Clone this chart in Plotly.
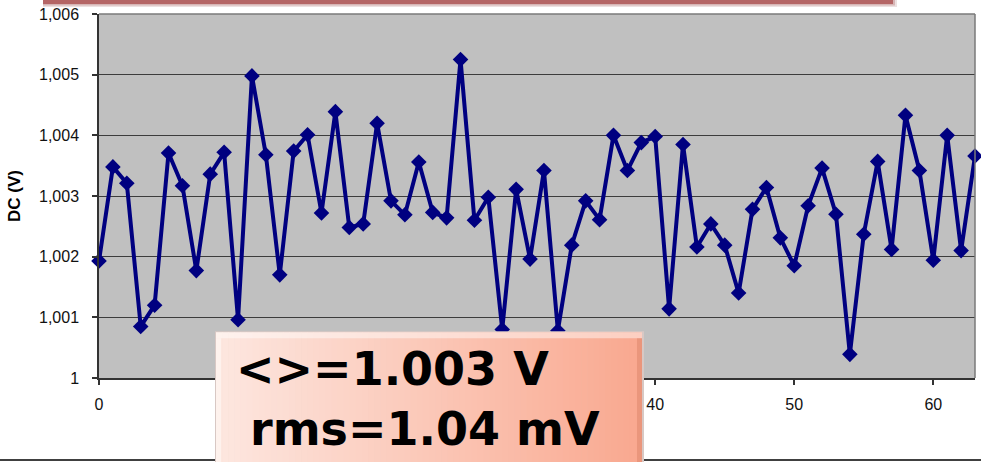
import plotly.graph_objects as go

# ---------------- data ----------------
sample_index = list(range(64))
dc_values = [
    1.00193, 1.00348, 1.00321, 1.00085, 1.00120, 1.00371, 1.00317, 1.00177,
    1.00336, 1.00372, 1.00096, 1.00498, 1.00368, 1.00170, 1.00374, 1.00401,
    1.00272, 1.00439, 1.00248, 1.00254, 1.00420, 1.00292, 1.00269, 1.00356,
    1.00273, 1.00264, 1.00525, 1.00260, 1.00298, 1.00080, 1.00311, 1.00196,
    1.00342, 1.00078, 1.00219, 1.00292, 1.00261, 1.00400, 1.00342, 1.00388,
    1.00398, 1.00114, 1.00385, 1.00216, 1.00254, 1.00219, 1.00140, 1.00278,
    1.00314, 1.00231, 1.00185, 1.00284, 1.00346, 1.00270, 1.00039, 1.00237,
    1.00357, 1.00212, 1.00433, 1.00342, 1.00194, 1.00400, 1.00210, 1.00366,
]
y_tickvals = [1.000, 1.001, 1.002, 1.003, 1.004, 1.005, 1.006]
y_ticktext = ["1", "1,001", "1,002", "1,003", "1,004", "1,005", "1,006"]
x_tickvals = [0, 10, 20, 30, 40, 50, 60]
# labels 10, 20 and 30 are hidden behind the stats box in the reference
x_ticktext = ["0", "", "", "", "40", "50", "60"]
y_title = "DC (V)"
stats_line1 = "&lt;&gt;=1.003 V"
stats_line2 = "rms=1.04 mV"

# ---------------- layout geometry ----------------
W, H = 981, 462
L, R, T, B = 99, 6, 12, 84
PW, PH = W - L - R, H - T - B


def px(xp):
    return (xp - L) / PW


def py(yp):
    return (H - B - yp) / PH


def hexmix(c1, c2, t):
    a = [int(c1[i:i + 2], 16) for i in (1, 3, 5)]
    b = [int(c2[i:i + 2], 16) for i in (1, 3, 5)]
    return "#%02x%02x%02x" % tuple(round(a[k] + (b[k] - a[k]) * t) for k in range(3))


fig = go.Figure()
fig.add_trace(go.Scatter(
    x=sample_index, y=dc_values, mode="lines+markers",
    line=dict(color="#000080", width=4),
    marker=dict(symbol="diamond", size=12, color="#000080"),
    cliponaxis=False, showlegend=False,
))

shapes = []
# plot frame top / right (gray)
shapes.append(dict(type="line", xref="paper", yref="paper", x0=0, x1=1, y0=1, y1=1,
                   line=dict(color="#7a7a7a", width=1.5)))
shapes.append(dict(type="line", xref="paper", yref="paper", x0=1, x1=1, y0=0, y1=1,
                   line=dict(color="#7a7a7a", width=1.5)))
# slide bottom line
shapes.append(dict(type="line", xref="paper", yref="paper", x0=px(0), x1=px(W),
                   y0=py(460.5), y1=py(460.5), line=dict(color="#000000", width=1.5),
                   layer="above"))
# top (cut) box edge with soft shadow
shapes.append(dict(type="rect", xref="paper", yref="paper", x0=px(43), x1=px(897),
                   y0=py(5), y1=py(-10), line=dict(width=0), fillcolor="#ece0e0",
                   layer="above"))
shapes.append(dict(type="rect", xref="paper", yref="paper", x0=px(43), x1=px(895),
                   y0=py(3.5), y1=py(-10), line=dict(width=0), fillcolor="#d6b4b4",
                   layer="above"))
shapes.append(dict(type="rect", xref="paper", yref="paper", x0=px(43), x1=px(893),
                   y0=py(2), y1=py(-10), line=dict(width=0), fillcolor="#b46565",
                   layer="above"))

# stats box with horizontal gradient
bx0, bx1, by0, by1 = 216, 642, 332, 470
n = 70
c_left, c_right = "#fde7e0", "#f9a88f"
shapes.append(dict(type="rect", xref="paper", yref="paper", x0=px(bx0 - 1), x1=px(bx1 + 2),
                   y0=py(by1), y1=py(by0 - 1), line=dict(width=0), fillcolor="#d8c8c4",
                   layer="above"))
for i in range(n):
    xa = bx0 + (bx1 - bx0) * i / n
    xb = bx0 + (bx1 - bx0) * (i + 1) / n + 0.6
    shapes.append(dict(type="rect", xref="paper", yref="paper", x0=px(xa), x1=px(min(xb, bx1)),
                       y0=py(by1), y1=py(by0), line=dict(width=0),
                       fillcolor=hexmix(c_left, c_right, (i + 0.5) / n), layer="above"))
# bevel highlights
shapes.append(dict(type="rect", xref="paper", yref="paper", x0=px(bx0), x1=px(bx1),
                   y0=py(by0 + 6), y1=py(by0), line=dict(width=0),
                   fillcolor="rgba(255,255,255,0.45)", layer="above"))
shapes.append(dict(type="rect", xref="paper", yref="paper", x0=px(bx0), x1=px(bx0 + 5),
                   y0=py(by1), y1=py(by0 + 6), line=dict(width=0),
                   fillcolor="rgba(255,255,255,0.45)", layer="above"))
shapes.append(dict(type="rect", xref="paper", yref="paper", x0=px(bx1 - 5), x1=px(bx1),
                   y0=py(by1), y1=py(by0 + 6), line=dict(width=0),
                   fillcolor="rgba(200,110,80,0.30)", layer="above"))

annotations = [
    dict(text=stats_line1, xref="paper", yref="paper", x=px(234), y=py(369),
         xanchor="left", yanchor="middle", showarrow=False,
         font=dict(family="DejaVu Sans", size=46, color="#000000", weight="bold")),
    dict(text=stats_line2, xref="paper", yref="paper", x=px(248), y=py(429),
         xanchor="left", yanchor="middle", showarrow=False,
         font=dict(family="DejaVu Sans", size=46, color="#000000", weight="bold")),
]

fig.update_layout(
    width=W, height=H,
    margin=dict(l=L, r=R, t=T, b=B, pad=0),
    paper_bgcolor="#ffffff", plot_bgcolor="#c0c0c0",
    shapes=shapes, annotations=annotations,
    font=dict(family="Liberation Sans, Arial, sans-serif", size=16, color="#111111"),
    xaxis=dict(range=[0, 63], tickvals=x_tickvals, ticktext=x_ticktext,
               showgrid=False, zeroline=False, showline=True, linecolor="#333333", linewidth=1.5,
               ticks="outside", ticklen=5, tickcolor="#333333", tickwidth=1.5,
               ticklabelstandoff=6, tickfont=dict(size=16)),
    yaxis=dict(range=[1.0, 1.006], tickvals=y_tickvals, ticktext=y_ticktext,
               showgrid=True, gridcolor="#3c3c3c", gridwidth=1.2,
               zeroline=False, showline=True, linecolor="#333333", linewidth=1.5,
               ticks="outside", ticklen=5, tickcolor="#333333", tickwidth=1.5,
               ticklabelstandoff=10, tickfont=dict(size=16),
               title=dict(text=y_title, standoff=14,
                          font=dict(size=17, weight="bold", color="#000000"))),
)

fig.write_html("out.html")
